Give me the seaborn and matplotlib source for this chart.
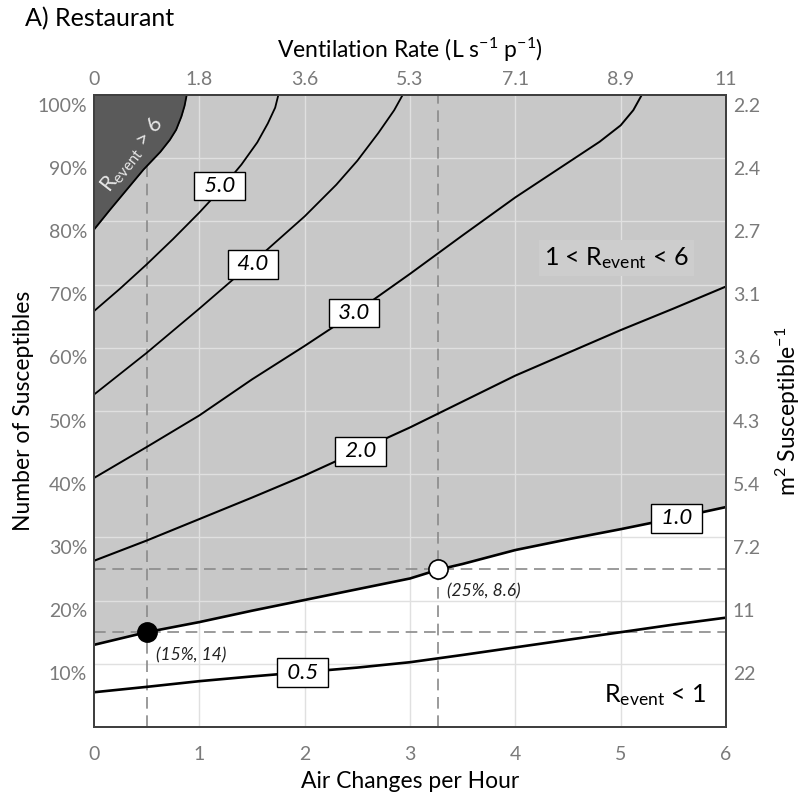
import numpy as np
import pandas as pd
import matplotlib
matplotlib.use("Agg")
import matplotlib.pyplot as plt
import seaborn as sns
from matplotlib.transforms import ScaledTranslation

# ---------------- data ----------------
ach_ticks = [0, 1, 2, 3, 4, 5, 6]
vent_labels = ["0", "1.8", "3.6", "5.3", "7.1", "8.9", "11"]
pct_ticks = [0.1, 0.2, 0.3, 0.4, 0.5, 0.6, 0.7, 0.8, 0.9, 1.0]
pct_labels = ["10%", "20%", "30%", "40%", "50%", "60%", "70%", "80%", "90%", "100%"]
m2_labels = ["22", "11", "7.2", "5.4", "4.3", "3.6", "3.1", "2.7", "2.4", "2.2"]

# contour lines of R_event (x: air changes per hour, y: fraction susceptible)
c6_x = [0, 0.15, 0.31, 0.47, 0.63, 0.72, 0.78, 0.83, 0.86, 0.88]
c6_y = [0.787, 0.818, 0.850, 0.882, 0.910, 0.929, 0.945, 0.966, 0.983, 1.0]
c5_x = [0, 0.25, 0.5, 0.75, 1.0, 1.2, 1.4, 1.55, 1.65, 1.72, 1.75]
c5_y = [0.658, 0.694, 0.732, 0.772, 0.814, 0.850, 0.890, 0.925, 0.955, 0.980, 1.0]
c4_x = [0, 0.5, 1.0, 1.5, 2.0, 2.3, 2.5, 2.7, 2.85, 2.93]
c4_y = [0.526, 0.592, 0.662, 0.734, 0.808, 0.858, 0.896, 0.940, 0.976, 1.0]
c3_x = [0, 0.5, 1.0, 1.5, 2.0, 2.5, 3.0, 3.5, 4.0, 4.5, 4.8, 5.0, 5.12, 5.2]
c3_y = [0.394, 0.443, 0.493, 0.550, 0.603, 0.658, 0.717, 0.778, 0.838, 0.893,
        0.926, 0.952, 0.976, 1.0]
c2_x = [0, 0.5, 1.0, 1.5, 2.0, 2.5, 3.0, 3.5, 4.0, 4.5, 5.0, 5.5, 6.0]
c2_y = [0.263, 0.295, 0.329, 0.363, 0.398, 0.436, 0.474, 0.515, 0.556, 0.592,
        0.628, 0.662, 0.697]
c1_x = [0, 0.5, 1.0, 1.5, 2.0, 2.5, 3.0, 3.27, 3.5, 4.0, 4.5, 5.0, 5.5, 6.0]
c1_y = [0.130, 0.150, 0.166, 0.184, 0.201, 0.218, 0.235, 0.249, 0.258, 0.280,
        0.297, 0.313, 0.330, 0.348]
c05_x = [0, 0.5, 1.0, 1.5, 2.0, 2.5, 3.0, 3.5, 4.0, 4.5, 5.0, 5.5, 6.0]
c05_y = [0.055, 0.0635, 0.0725, 0.080, 0.087, 0.094, 0.1025, 0.114, 0.126,
         0.138, 0.150, 0.162, 0.173]

label_text = ["5.0", "4.0", "3.0", "2.0", "1.0", "0.5"]
label_x = [1.19, 1.51, 2.47, 2.53, 5.53, 1.98]
label_y = [0.856, 0.732, 0.655, 0.436, 0.330, 0.086]

point_x = [0.5, 3.27]
point_y = [0.15, 0.25]
point_text = ["(15%, 14)", "(25%, 8.6)"]

# ---------------- style ----------------
sns.set_style("white")
plt.rcParams["font.family"] = ["Lato", "DejaVu Sans"]
plt.rcParams["mathtext.fontset"] = "custom"
plt.rcParams["mathtext.rm"] = "Lato"
plt.rcParams["mathtext.it"] = "Lato:italic"
plt.rcParams["mathtext.bf"] = "Lato:bold"
plt.rcParams["mathtext.sf"] = "Lato"

LIGHT = "#c8c8c8"
DARK = "#5a5a5a"
GRID = "#e0e0e0"
TICKC = "#7a7a7a"
SPINE = "#404040"

fig = plt.figure(figsize=(8.01, 7.99), dpi=100)
ax = fig.add_axes([94 / 801, 1 - 727 / 799, 632 / 801, 632 / 799])
ax.set_facecolor("white")
ax.set_xlim(0, 6)
ax.set_ylim(0, 1)

# fills
ax.fill_between(c1_x, c1_y, 1.0, color=LIGHT, lw=0, zorder=1)

# grid lines
for t in ach_ticks[1:-1]:
    ax.axvline(t, color=GRID, lw=1.0, zorder=1.5)
for t in pct_ticks[:-1]:
    ax.axhline(t, color=GRID, lw=1.0, zorder=1.5)

# reference dashed lines
for px, py in zip(point_x, point_y):
    ax.axvline(px, color="#8a8a8a", lw=1.2, ls=(0, (7, 4)), zorder=2)
    ax.axhline(py, color="#8a8a8a", lw=1.2, ls=(0, (7, 4)), zorder=2)

ax.fill_between(c6_x, c6_y, 1.0, color=DARK, lw=0, zorder=2.5)

# contour lines
curves = [(c6_x, c6_y, 1.3), (c5_x, c5_y, 1.3), (c4_x, c4_y, 1.3),
          (c3_x, c3_y, 1.4), (c2_x, c2_y, 1.5), (c1_x, c1_y, 1.9), (c05_x, c05_y, 1.9)]
for cx, cy, lw in curves:
    sns.lineplot(x=cx, y=cy, sort=False, estimator=None, color="black",
                 lw=lw, ax=ax, zorder=3)

# contour labels
for t, lx, ly in zip(label_text, label_x, label_y):
    ax.text(lx, ly, " " + t + " ", ha="center", va="center", fontsize=16,
            style="italic", color="black", zorder=4,
            bbox=dict(boxstyle="square,pad=0.2", fc="white", ec="black", lw=1.0))

# points
sns.scatterplot(x=point_x[:1], y=point_y[:1], s=190, color="black",
                edgecolor="black", linewidth=1.2, ax=ax, zorder=5)
sns.scatterplot(x=point_x[1:], y=point_y[1:], s=190, color="white",
                edgecolor="black", linewidth=1.2, ax=ax, zorder=5)
ax.text(0.59, 0.114, point_text[0], ha="left", va="center", fontsize=12.5,
        style="italic", color="#222222", zorder=5)
ax.text(3.35, 0.215, point_text[1], ha="left", va="center", fontsize=12.5,
        style="italic", color="#222222", zorder=5)

# region labels
ax.text(5.65, 0.731, "1 < R$_{\\mathrm{event}}$ < 6", ha="right", va="baseline",
        fontsize=18, color="black", zorder=4,
        bbox=dict(boxstyle="square,pad=0.2", fc="#cdcdcd", ec="none"))
ax.text(5.81, 0.040, "R$_{\\mathrm{event}}$ < 1", ha="right", va="baseline",
        fontsize=18, color="black", zorder=4)
ax.text(0.37, 0.905, "R$_{\\mathrm{event}}$ > 6", ha="center", va="center",
        rotation=52, rotation_mode="anchor", fontsize=15.5, color="#e6e6e6", zorder=4)

# axes ticks
ax.set_xticks(ach_ticks)
ax.set_xticklabels([str(t) for t in ach_ticks])
ax.set_yticks(pct_ticks)
ax.set_yticklabels(pct_labels)
ax.tick_params(axis="x", length=0, pad=14, labelsize=14, labelcolor=TICKC)
ax.tick_params(axis="y", length=0, pad=5, labelsize=14, labelcolor=TICKC)
ax.set_xlabel("")
ax.set_ylabel("")

axt = ax.twiny()
axt.set_xlim(0, 6)
axt.set_xticks(ach_ticks)
axt.set_xticklabels(vent_labels)
axt.tick_params(axis="x", length=0, pad=5, labelsize=14, labelcolor=TICKC)

axr = ax.twinx()
axr.set_ylim(0, 1)
axr.set_yticks(pct_ticks)
axr.set_yticklabels(m2_labels)
axr.tick_params(axis="y", length=0, pad=5, labelsize=14, labelcolor=TICKC)

off = ScaledTranslation(0, -9.5 / 100, fig.dpi_scale_trans)
for tk in ax.yaxis.get_major_ticks():
    tk.label1.set_transform(tk.label1.get_transform() + off)
for tk in axr.yaxis.get_major_ticks():
    tk.label2.set_transform(tk.label2.get_transform() + off)

for a in (ax, axt, axr):
    for s in a.spines.values():
        s.set_color(SPINE)
        s.set_linewidth(1.2)
        s.set_zorder(6)

# titles
fig.text(25 / 801, 1 - 26.7 / 799, "A) Restaurant", ha="left", va="baseline",
         fontsize=18, color="black")
fig.text(410 / 801, 1 - 57.5 / 799, "Ventilation Rate (L s$^{-1}$ p$^{-1}$)",
         ha="center", va="baseline", fontsize=16.5, color="black")
fig.text(410 / 801, 1 - 788 / 799, "Air Changes per Hour", ha="center",
         va="baseline", fontsize=16.5, color="black")
fig.text(23.3 / 801, 1 - 411 / 799, "Number of Susceptibles", ha="center",
         va="center", rotation=90, fontsize=16.5, color="black")
fig.text(787.5 / 801, 1 - 411 / 799, "m$^{2}$ Susceptible$^{-1}$", ha="center",
         va="center", rotation=90, fontsize=16.5, color="black")

fig.savefig("out.png", dpi=100)
